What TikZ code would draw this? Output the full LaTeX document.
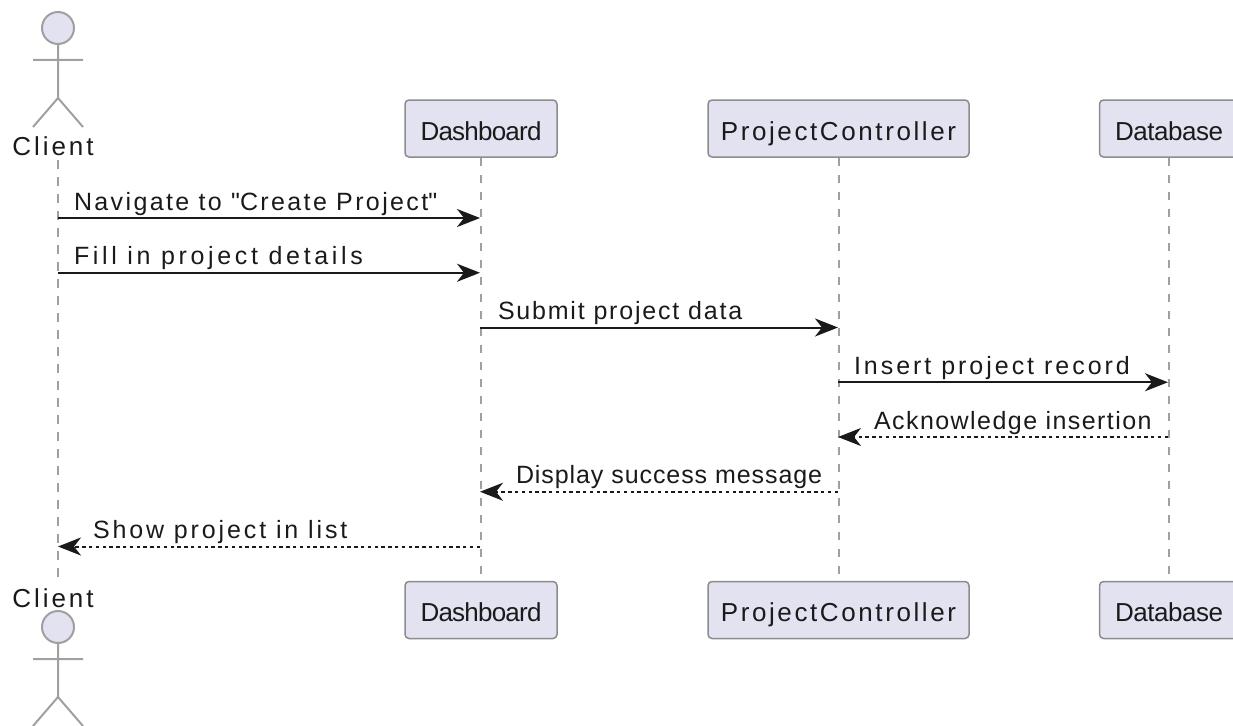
\documentclass[tikz,border=0pt]{standalone}
\usepackage{fontspec}
\setmainfont{Liberation Sans}
\usetikzlibrary{arrows.meta}
\definecolor{partfill}{HTML}{E2E2F0}
\definecolor{partline}{HTML}{8C8C8C}
\definecolor{lifegray}{HTML}{A0A0A0}
\definecolor{ink}{HTML}{1A1A1A}
\newcommand\trk[2]{{\addfontfeature{LetterSpace=#1}#2}}
\tikzset{
  part/.style={draw=partline, fill=partfill, rounded corners=4pt, line width=1.5pt,
    minimum height=57pt, inner sep=0pt, text height=23pt, text depth=0pt,
    text=ink, font=\fontsize{26}{30}\selectfont},
  actorname/.style={inner sep=0pt, text=ink, font=\fontsize{26}{30}\selectfont},
  stick/.style={draw=lifegray, line width=2pt},
  lifeline/.style={draw=lifegray, line width=2pt, dash pattern=on 8.5pt off 8.5pt},
  msg/.style={draw=ink, line width=2pt, -{Stealth[length=23pt,width=18pt,inset=7pt]}},
  reply/.style={msg, dash pattern=on 3.4pt off 3.4pt},
  lbl/.style={inner sep=0pt, anchor=base west, yshift=8pt, text=ink,
    font=\fontsize{25}{30}\selectfont},
}
\begin{document}
\begin{tikzpicture}[x=1pt,y=-1pt]
  \useasboundingbox (0,0) rectangle (1233,725);

  % participants, top and bottom
  \node[part, minimum width=152pt] (dashT) at (481,128.5) {\trk{-3}{Dashboard}};
  \node[part, minimum width=261pt] (pcT) at (838.5,128.5) {\trk{10}{ProjectController}};
  \node[part, minimum width=139pt] (dbT) at (1169,128.5) {\trk{-1.8}{Database}};
  \node[part, minimum width=152pt] (dashB) at (481,610) {\trk{-3}{Dashboard}};
  \node[part, minimum width=261pt] (pcB) at (838.5,610) {\trk{10}{ProjectController}};
  \node[part, minimum width=139pt] (dbB) at (1169,610) {\trk{-1.8}{Database}};

  % client actor
  \node[actorname] (clientT) at (53,146) {\trk{11.5}{Client}};
  \node[actorname] (clientB) at (53,598) {\trk{11.5}{Client}};
  \draw[stick, fill=partfill] (58,28) circle[radius=16pt];
  \draw[stick] (58,44)--(58,98) (33,60)--(83,60) (33,127)--(58,98)--(83,127);
  \draw[stick, fill=partfill] (58,627) circle[radius=16pt];
  \draw[stick] (58,643)--(58,697) (33,659)--(83,659) (33,726)--(58,697)--(83,726);

  % lifelines
  \coordinate (clT) at (58,160);
  \coordinate (clB) at (58,582);
  \draw[lifeline] (clT) -- (clB);
  \draw[lifeline] (dashT) -- (dashB);
  \draw[lifeline] (pcT) -- (pcB);
  \draw[lifeline] (dbT) -- (dbB);

  % message end points on each lifeline
  \foreach \k in {1,...,7}
    \foreach \n/\x in {cl/58, da/480, pc/838, ds/1168}
      \coordinate (\n\k) at (\x,{218+54.75*(\k-1)});

  % messages
  \draw[msg] (cl1) -- (da1) node[lbl, pos=0, xshift=15pt] (m1) {\trk{9.5}{Navigate to \textquotedbl Create Project\textquotedbl}};
  \draw[msg] (cl2) -- (da2) node[lbl, pos=0, xshift=15pt] (m2) {\trk{14.6}{Fill in project details}};
  \draw[msg] (da3) -- (pc3) node[lbl, pos=0, xshift=17pt] (m3) {\trk{7.2}{Submit project data}};
  \draw[msg] (pc4) -- (ds4) node[lbl, pos=0, xshift=15pt] (m4) {\trk{11.9}{Insert project record}};
  \draw[reply] (ds5) -- (pc5) node[lbl, pos=1, xshift=35pt] (m5) {\trk{5.8}{Acknowledge insertion}};
  \draw[reply] (pc6) -- (da6) node[lbl, pos=1, xshift=35pt] (m6) {\trk{3.7}{Display success message}};
  \draw[reply] (da7) -- (cl7) node[lbl, pos=1, xshift=34pt] (m7) {\trk{11.5}{Show project in list}};
\end{tikzpicture}
\end{document}
